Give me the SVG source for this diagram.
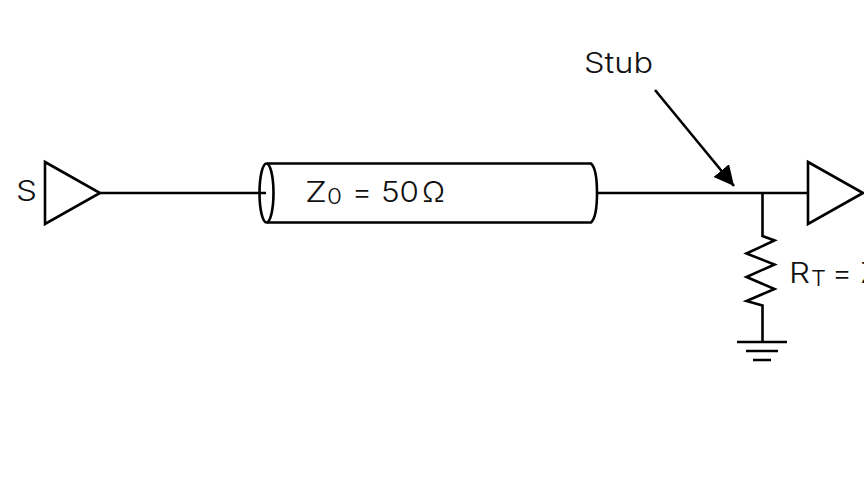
<svg xmlns="http://www.w3.org/2000/svg" width="864" height="486" viewBox="0 0 864 486">
<style>
.l{fill:none;stroke:#000;stroke-width:2.6;stroke-linejoin:miter}
.t{font-family:"Inter","Liberation Sans",sans-serif;font-weight:300;font-size:29px;fill:#111}
.s{font-size:22px}
</style>
<defs><marker id="ah" markerUnits="userSpaceOnUse" markerWidth="22" markerHeight="24" refX="20" refY="10" orient="auto"><path d="M0 0L20 10L0 20Z" fill="#000"/></marker></defs>
<rect width="864" height="486" fill="#fff"/>
<g id="connectors">
<path class="l" d="M100 193H266"/>
<path class="l" d="M597 193H808"/>
<path class="l" d="M655 90L734 186" marker-end="url(#ah)"/>
<path class="l" d="M762.5 193V236L774.500 240.500L746.500 253.500L774.500 264.500L746.500 277L774.500 289L746.500 301L762.500 305.500V342"/>
</g>
<g id="source"><path class="l" d="M45 162L100 193L45 224Z"/><text class="t" x="16" y="201" textLength="21" lengthAdjust="spacingAndGlyphs">S</text></g>
<g id="line"><path class="l" d="M267 163.500H591C595 167 597 178 597 193C597 208 595 219 591 222.500H267"/><ellipse class="l" cx="266.500" cy="193" rx="7" ry="29.500"/><text class="t" x="305" y="202" textLength="22" lengthAdjust="spacingAndGlyphs">Z</text><text class="t s" x="327" y="204" textLength="15" lengthAdjust="spacingAndGlyphs">0</text><text class="t" x="352" y="202" textLength="20" lengthAdjust="spacingAndGlyphs">=</text><text class="t" x="381" y="202" textLength="38" lengthAdjust="spacingAndGlyphs">50</text><text class="t" x="422" y="202" textLength="23" lengthAdjust="spacingAndGlyphs">Ω</text></g>
<g id="receiver"><path class="l" d="M808 162L863 193L808 224Z"/></g>
<g id="resistor-label"><text class="t" x="789" y="283" textLength="21" lengthAdjust="spacingAndGlyphs">R</text><text class="t s" x="811" y="286" textLength="15" lengthAdjust="spacingAndGlyphs">T</text><text class="t" x="832" y="283" textLength="20" lengthAdjust="spacingAndGlyphs">=</text><text class="t" x="860" y="283" textLength="20" lengthAdjust="spacingAndGlyphs">Z</text></g>
<g id="ground"><path class="l" d="M737 342H787M746 351H778M753 360H771"/></g>
<g id="stub"><text class="t" x="584" y="72.500" textLength="69" lengthAdjust="spacingAndGlyphs">Stub</text></g>
</svg>
